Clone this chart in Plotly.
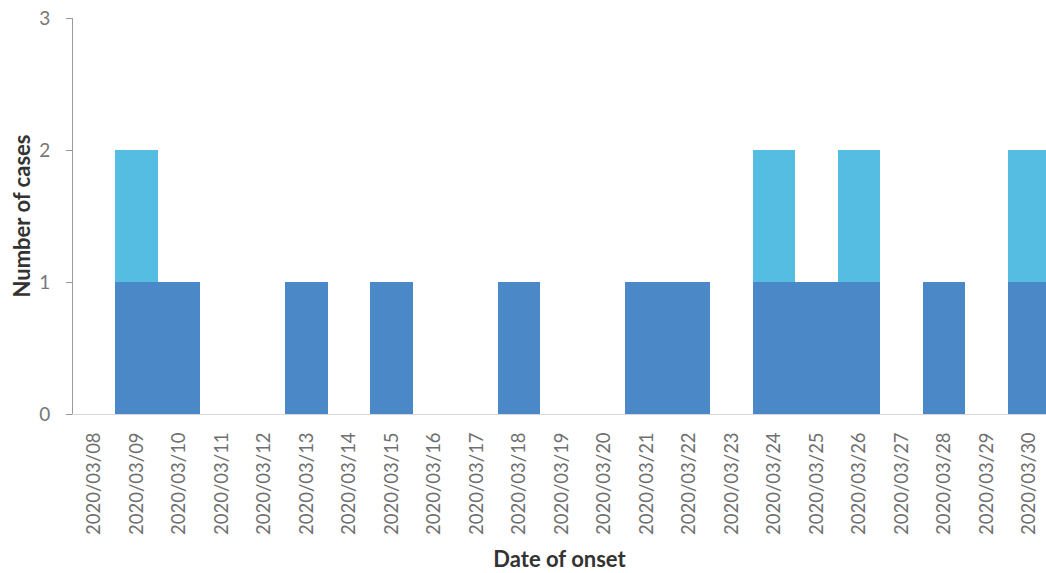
import plotly.graph_objects as go

dates = ["2020/03/08", "2020/03/09", "2020/03/10", "2020/03/11", "2020/03/12",
         "2020/03/13", "2020/03/14", "2020/03/15", "2020/03/16", "2020/03/17",
         "2020/03/18", "2020/03/19", "2020/03/20", "2020/03/21", "2020/03/22",
         "2020/03/23", "2020/03/24", "2020/03/25", "2020/03/26", "2020/03/27",
         "2020/03/28", "2020/03/29", "2020/03/30"]
series_a = [0, 1, 1, 0, 0, 1, 0, 1, 0, 0, 1, 0, 0, 1, 1, 0, 1, 1, 1, 0, 1, 0, 1]
series_b = [0, 1, 0, 0, 0, 0, 0, 0, 0, 0, 0, 0, 0, 0, 0, 0, 1, 0, 1, 0, 0, 0, 1]
y_ticks = [0, 1, 2, 3]

FONT = "Lato"
fig = go.Figure()
fig.add_trace(go.Bar(x=dates, y=series_a, marker=dict(color="#4a88c7", line=dict(width=0)),
                     showlegend=False))
fig.add_trace(go.Bar(x=dates, y=series_b, marker=dict(color="#55bce2", line=dict(width=0)),
                     showlegend=False))

fig.update_layout(
    width=1046, height=573,
    barmode="stack", bargap=0,
    plot_bgcolor="white", paper_bgcolor="white",
    margin=dict(l=73, r=0, t=18, b=159),
    font=dict(family=FONT, color="#777777"),
    xaxis=dict(
        type="category", range=[-0.5, 22.4], automargin=False,
        tickangle=-90, tickfont=dict(size=18.5, color="#6f6f6f"),
        ticklabelstandoff=10,
        showline=True, linecolor="#d8d8d8", linewidth=1,
        ticks="", showgrid=False,
        title=dict(text="<b>Date of onset</b>", font=dict(size=22, color="#333333"), standoff=17),
    ),
    yaxis=dict(
        range=[0, 3], tickvals=y_ticks, showgrid=False, zeroline=False, automargin=False,
        showline=True, linecolor="#9a9a9a", linewidth=1,
        ticks="outside", ticklen=6, tickcolor="#9a9a9a",
        ticklabelstandoff=12,
        tickfont=dict(size=19, color="#777777"),
        title=dict(text="<b>Number of cases</b>", font=dict(size=22, color="#333333"), standoff=2),
    ),
)
fig.write_html("out.html", config={"displayModeBar": False},
               post_script="document.body.style.margin='0';document.body.style.overflow='hidden';")
